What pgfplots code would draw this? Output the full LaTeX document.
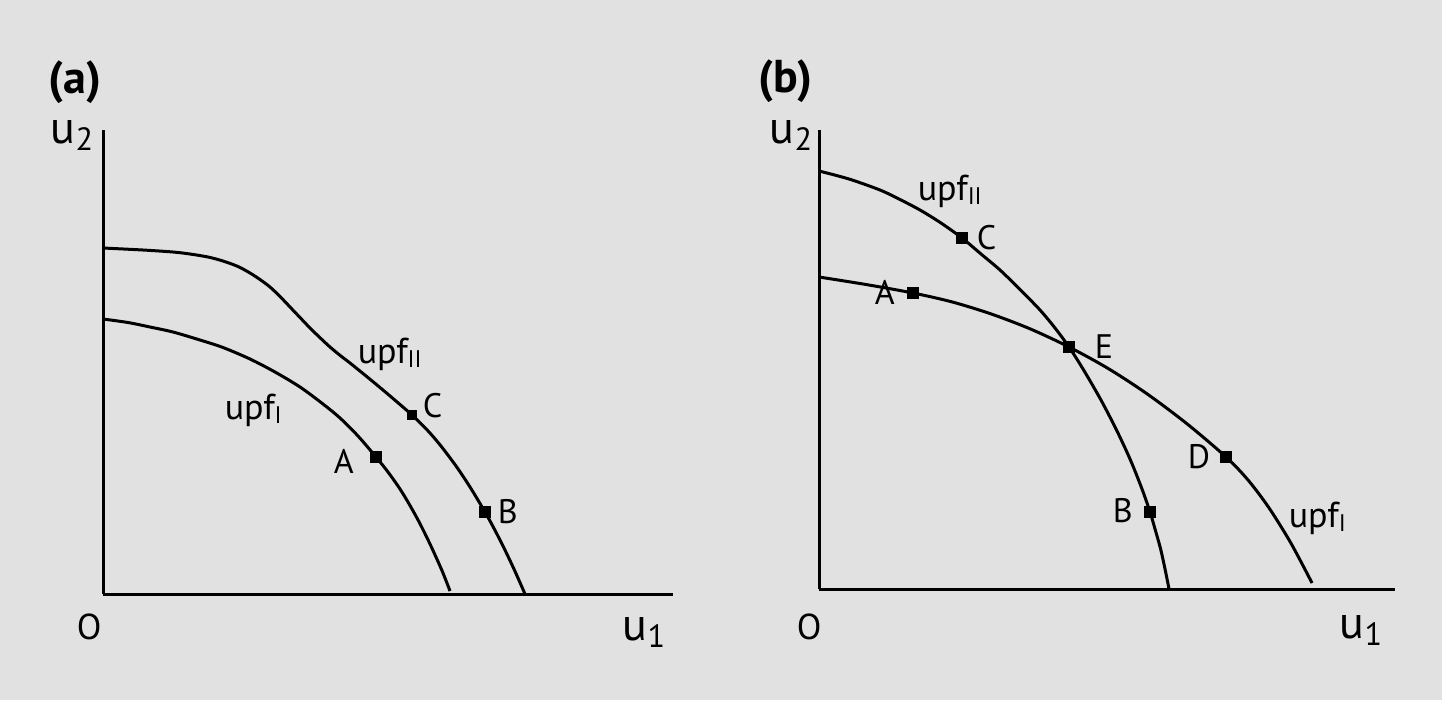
\documentclass[border=0pt]{standalone}
\usepackage{fontspec}
\setmainfont{PT Sans}
\usepackage{pgfplots}
\pgfplotsset{compat=1.18}
\definecolor{bgc}{RGB}{225,225,225}

\pgfplotsset{
  upfaxis/.style={
    x=0.25pt, y=0.25pt, xmin=0, ymin=0,
    axis lines=left, axis line style={-, line width=0.75pt},
    xtick=\empty, ytick=\empty, clip=false, anchor=south west,
  },
  curve/.style={black, line width=0.75pt, smooth, tension=0.5, no markers},
  pts/.style={black, only marks, mark=square*, mark size=1.25pt},
}
\newcommand{\lab}[1]{\fontsize{8.5}{9}\selectfont #1}
\newcommand{\upf}[1]{\fontsize{9}{10}\selectfont upf\textsubscript{#1}}
\newcommand{\ax}[2]{\fontsize{11.5}{12}\selectfont #1\textsubscript{#2}}

\begin{document}
\begin{tikzpicture}
\begin{scope}[x=0.25pt, y=-0.25pt, yshift=175pt]
\fill[bgc] (0,0) rectangle (1442,700);
\end{scope}

% panel (a)
\begin{axis}[upfaxis, xmax=570, ymax=464, at={(25.75pt,26.5pt)}]
% upf_I
\addplot[curve] coordinates {(0,275) (25,271.5) (47,267) (70,262) (97,254) (120,246.5) (147,235) (172,222) (197,207) (220,190) (237,176) (255,158) (273,137) (285,122) (297,105) (307,88.5) (317,70.3) (327,50) (337,28) (342,16) (347,3)};
% upf_II
\addplot[curve] coordinates {(0,346) (40,344) (70,342) (87,340) (105,337) (120,333) (135,327.5) (147,321) (157,314.5) (167,307) (177,297.5) (187,287) (197,276.5) (207,266) (217,256.3) (227,247) (237,238.7) (247,231) (260,220.5) (274,209) (290,195.5) (309,179) (324,164.2) (337,149.2) (353,128) (367,107) (382,82) (392,63.7) (402,43.9) (412,22.7) (422,0)};
\addplot[pts] coordinates {(273,137) (382,82)};
\addplot[pts, mark size=1pt] coordinates {(309,179)};
\end{axis}

% panel (b)
\begin{axis}[upfaxis, xmax=576, ymax=459, at={(204.75pt,27.75pt)}]
% upf_II
\addplot[curve] coordinates {(0,418) (30,410) (61,399) (80,390) (101,379) (122,366) (143,351) (162,335) (181,319) (201,299.5) (221,279) (236,261) (250,242) (264,220) (281.4,190) (297,160) (311,130) (323,100) (331,77) (336,60) (341.6,40) (346,20) (350,0)};
% upf_I
\addplot[curve] coordinates {(0,312) (47,304.5) (94,296) (133,287.1) (172,275.1) (211,260.2) (250,242) (289,220.6) (328,195.2) (368,165.2) (407,132) (429,109) (450,81.1) (472,45.7) (493,6)};
\addplot[pts] coordinates {(143,351) (94,296) (250,242) (331,77) (407,132)};
\end{axis}

\begin{scope}[x=0.25pt, y=-0.25pt, yshift=175pt, every node/.style={anchor=base west, inner sep=0pt}]
\node at (48,93) {\fontsize{11.5}{12}\selectfont\bfseries (a)};
\node at (758,92) {\fontsize{11.5}{12}\selectfont\bfseries (b)};
\node at (50,143) {\ax{u}{2}};
\node at (769,143) {\ax{u}{2}};
\node at (622,640) {\ax{u}{1}};
\node at (1339,638) {\ax{u}{1}};
\node at (76,639) {\fontsize{9}{10}\selectfont O};
\node at (796,639) {\fontsize{9}{10}\selectfont O};
% panel (a) labels
\node at (224,419) {\upf{I}};
\node at (357,363) {\upf{II}};
\node at (422,417) {\lab{C}};
\node at (333,473) {\lab{A}};
\node at (497,523) {\lab{B}};
% panel (b) labels
\node at (917,200) {\upf{II}};
\node at (976,249) {\lab{C}};
\node at (874,304) {\lab{A}};
\node at (1094,358) {\lab{E}};
\node at (1187,468) {\lab{D}};
\node at (1112,522) {\lab{B}};
\node at (1288,527) {\upf{I}};
\end{scope}
\end{tikzpicture}
\end{document}
